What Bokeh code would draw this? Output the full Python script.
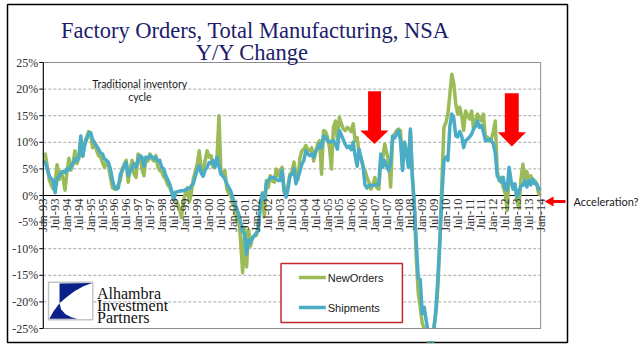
import math
from bokeh.plotting import figure
from bokeh.models import (Range1d, FixedTicker, Label, LabelSet, ColumnDataSource,
                          BoxAnnotation, PolyAnnotation, Arrow, LinearAxis,
                          CustomJSTickFormatter)
from bokeh.core.properties import value
from bokeh.embed import file_html
from bokeh.resources import INLINE

# ---------------- data (monthly, Jan-93 .. Jan-14, y/y % change) ----------------
new_orders = [
    7.5, 7.8, 5.5, 3.0, 2.0, 1.2, 2.5, 5.8, 3.0, 4.5, 3.2, 1.0,          # 1993
    4.5, 7.0, 4.8, 5.8, 8.4, 6.0, 7.0, 10.3, 7.4, 10.0, 11.0, 12.0,      # 1994
    11.5, 9.0, 10.0, 8.5, 7.5, 7.2, 6.2, 5.3, 6.5, 5.5, 3.4, 1.5,        # 1995
    1.2, 1.5, 2.0, 2.8, 5.0, 5.9, 6.6, 2.5, 5.0, 6.6, 4.0, 3.4,          # 1996
    7.8, 7.2, 5.0, 3.7, 7.2, 6.5, 7.8, 6.9, 6.5, 7.5, 5.5, 4.7,          # 1997
    4.5, 3.5, 3.1, 2.0, 1.6, 0.6, -0.5, -1.0, -1.5, -2.5, -4.2, -1.0,    # 1998
    0.5, 1.5, -1.2, 0.5, 3.1, 4.5, 6.0, 8.4, 5.0, 4.7, 6.6, 8.4,         # 1999
    7.2, 7.5, 5.3, 6.0, 7.0, 15.0, 4.7, 3.7, 4.7, 1.2, 0.3, 0.0,         # 2000
    -1.5, -2.2, -4.7, -4.0, -8.7, -14.5, -6.0, -13.4, -6.5, -9.5, -7.8, -7.5,  # 2001
    -7.5, -5.6, -1.5, 0.5, -4.0, 2.8, 1.5, 3.7, 2.8, 2.5, 5.0, 3.7,      # 2002
    4.7, 5.3, 0.6, 0.3, 2.0, 4.0, 4.5, 6.3, 4.0, 3.0, 7.0, 8.4,          # 2003
    8.7, 9.4, 8.6, 8.4, 9.0, 6.5, 8.0, 9.7, 10.3, 4.0, 12.2, 12.0,       # 2004
    11.0, 9.0, 5.0, 12.8, 14.0, 10.5, 14.7, 13.5, 12.5, 12.2, 12.8, 12.5,  # 2005
    12.0, 13.5, 10.3, 10.9, 8.0, 7.2, 5.5, 4.7, 3.4, 2.5, 1.2, 2.0,      # 2006
    3.4, 1.5, 1.2, 6.5, 7.0, 9.7, 8.0, 6.5, 1.6, 11.0, 11.5, 12.2,       # 2007
    12.5, 12.2, 5.3, 10.0, 8.4, 6.2, 12.0, 3.7, -2.2, -12.0, -18.4, -21.0,  # 2008
    -24.0, -25.0, -25.5, -28.0, -30.0, -30.0, -24.5, -22.0, -17.0, -8.0, 3.0, 12.8,  # 2009
    13.7, 15.3, 19.0, 22.8, 21.0, 17.2, 15.3, 16.6, 15.0, 12.2, 15.9, 15.0,  # 2010
    14.4, 15.9, 12.5, 14.0, 15.3, 14.5, 14.0, 15.3, 10.8, 11.0, 10.3, 10.6,  # 2011
    12.0, 14.0, 4.5, 2.8, 3.4, 1.6, 0.5, -2.8, 3.7, 2.5, 1.6, 1.9,       # 2012
    -1.0, -2.4, 3.0, 5.9, 3.0, 4.5, 3.0, 3.7, 2.5, 2.8, 2.2, 0.3,        # 2013
    0.0,                                                                 # Jan-14
]

shipments = [
    6.5, 6.2, 5.0, 3.7, 3.2, 2.8, 0.5, 3.2, 3.6, 4.2, 4.5, 4.3,          # 1993
    5.0, 4.8, 5.5, 6.0, 6.9, 6.5, 7.2, 11.2, 7.4, 9.5, 10.6, 11.7,       # 1994
    11.8, 10.5, 9.9, 9.3, 8.7, 8.0, 7.8, 6.9, 6.6, 6.2, 5.0, 3.0,        # 1995
    1.6, 1.2, 1.4, 4.0, 4.7, 5.5, 6.2, 3.7, 4.5, 5.3, 6.0, 5.3,          # 1996
    6.6, 7.5, 7.2, 5.5, 7.2, 7.0, 7.5, 7.3, 6.9, 7.2, 6.5, 6.6,          # 1997
    5.3, 5.0, 3.8, 3.0, 2.2, 1.0, -0.8, 0.6, 0.7, 0.8, 0.9, 0.9,         # 1998
    1.1, 1.2, 1.3, 1.8, 2.2, 3.6, 4.8, 5.6, 4.2, 3.6, 4.8, 5.3,          # 1999
    6.2, 6.0, 6.6, 5.3, 7.2, 5.5, 4.0, 3.7, 3.1, 2.2, 1.5, 0.8,          # 2000
    -0.5, -1.5, -2.4, -3.5, -5.0, -6.8, -7.2, -11.0, -8.4, -8.8, -8.0, -7.6,  # 2001
    -7.0, -6.6, -1.5, 0.3, -0.8, 2.2, 2.8, 3.4, 3.4, 3.4, 3.1, 2.8,      # 2002
    2.8, 4.7, 1.2, -0.3, 1.2, 3.7, 4.0, 5.0, 2.2, 3.4, 4.5, 5.9,         # 2003
    6.6, 8.4, 7.8, 7.5, 7.8, 7.2, 8.4, 8.8, 9.7, 9.0, 11.2, 11.0,        # 2004
    10.3, 10.0, 10.2, 10.3, 9.7, 8.7, 12.2, 11.4, 10.5, 9.6, 9.0, 9.3,   # 2005
    8.6, 10.0, 7.5, 5.5, 8.7, 7.0, 5.5, 2.0, 1.4, 1.9, 1.9, 1.9,         # 2006
    2.0, 1.9, 2.2, 7.8, 5.3, 6.6, 5.5, 4.7, 6.0, 11.2, 10.8, 11.5,       # 2007
    12.2, 10.3, 4.7, 10.0, 7.8, 5.3, 12.5, 3.4, -1.6, -9.0, -15.6, -15.8,  # 2008
    -22.2, -21.0, -23.5, -25.8, -28.0, -28.0, -25.0, -21.0, -15.0, -8.0, 0.0, 6.6,  # 2009
    7.2, 6.6, 13.0, 15.3, 14.5, 11.2, 11.0, 12.0, 11.2, 9.0, 10.3, 10.6,  # 2010
    11.0, 11.5, 12.5, 13.0, 14.0, 12.8, 13.2, 12.0, 10.3, 10.3, 10.6, 10.3,  # 2011
    9.7, 8.0, 3.7, 3.1, 2.5, 3.4, 1.2, 1.0, 5.3, 2.8, 1.2, 2.2,          # 2012
    -0.3, 0.6, 1.8, 1.9, 2.8, 1.6, 2.8, 2.0, 3.1, 2.2, 2.2, 1.2,         # 2013
    1.5,                                                                 # Jan-14
]

tick_labels = [
    "Jan-93", "Jul-93", "Jan-94", "Jul-94", "Jan-95", "Jul-95", "Jan-96", "Jul-96",
    "Jan-97", "Jul-97", "Jan-98", "Jul-98", "Jan-99", "Jul-99", "Jan-00", "Jul-00",
    "Jan-01", "Jul-01", "Jan-02", "Jul-02", "Jan-03", "Jul-03", "Jan-04", "Jul-04",
    "Jan-05", "Jul-05", "Jan-06", "Jul-06", "Jan-07", "Jul-07", "Jan-08", "Jul-08",
    "Jan-09", "Jul-09", "Jan-10", "Jul-10", "Jan-11", "Jul-11", "Jan-12", "Jul-12",
    "Jan-13", "Jul-13", "Jan-14",
]
tick_months = [6 * i for i in range(len(tick_labels))]
y_ticks = [-25, -20, -15, -10, -5, 0, 5, 10, 15, 20, 25]
y_tick_labels = [f"{t}%" for t in y_ticks]
series_names = ["NewOrders", "Shipments"]
series_colors = ["#9bbb59", "#4bacc6"]

months = list(range(len(shipments)))

# ---------------- layout (pixels of the picture) ----------------
W, H = 641, 346
BL, BR, BT, BB = 7, 570, 4, 342       # outer black box = bokeh frame
FL, FR, FT, FB = 43, 543, 62, 328     # plot area
XMIN, XMAX = 0, 252
YMIN, YMAX = -25, 25


def dx(px):
    return XMIN + (px - FL) / (FR - FL) * (XMAX - XMIN)


def dy(py):
    return YMAX - (py - FT) / (FB - FT) * (YMAX - YMIN)


p = figure(width=W, height=H, output_backend="svg", toolbar_location=None,
           x_range=Range1d(dx(BL), dx(BR)), y_range=Range1d(dy(BB), dy(BT)),
           x_axis_location=None, y_axis_location=None, title=None)
p.min_border = 0
p.min_border_left = BL
p.min_border_right = W - BR
p.min_border_top = BT
p.min_border_bottom = H - BB
p.background_fill_color = "white"
p.border_fill_color = "white"
p.outline_line_color = "black"
p.outline_line_width = 1.5
p.xgrid.grid_line_color = None
p.ygrid.grid_line_color = None

n = len(y_ticks)
# horizontal dashed grid and zero axis line
p.segment(x0=[XMIN] * n, x1=[XMAX] * n, y0=y_ticks, y1=y_ticks, line_color="#a6a6a6",
          line_width=1, line_dash="3 2", level="underlay")
p.segment(x0=[XMIN], x1=[XMAX], y0=[0], y1=[0], line_color="black", line_width=1,
          level="underlay")

# data lines
p.line(months, new_orders, line_color=series_colors[0], line_width=3.5, line_join="round")
p.line(months, shipments, line_color=series_colors[1], line_width=3.5, line_join="round")

# keep the plot area's bottom edge as the lower limit of the lines
p.add_layout(BoxAnnotation(left=dx(FL + 0.5), right=dx(FR + 3), top=dy(FB + 0.6), bottom=dy(BB - 1.5),
                           fill_color="white", fill_alpha=1, line_color=None))
# plot-area border and y axis
p.add_layout(BoxAnnotation(left=XMIN, right=XMAX, top=YMAX, bottom=YMIN, fill_alpha=0,
                           fill_color=None, line_color="#8c8c8c", line_alpha=1, line_width=1))
p.add_layout(Arrow(x_start=XMIN, y_start=YMIN, x_end=XMIN, y_end=YMAX, start=None, end=None,
                   line_color="black", line_width=1))
p.segment(x0=[dx(FL - 4)] * n, x1=[XMIN] * n, y0=y_ticks, y1=y_ticks, line_color="black",
          line_width=1)
ysrc = ColumnDataSource(dict(x=[dx(FL - 5)] * n, y=y_ticks, text=y_tick_labels))
p.add_layout(LabelSet(x="x", y="y", text="text", source=ysrc, text_align="right",
                      text_baseline="middle", text_font=value("Liberation Serif"),
                      text_font_size="12px", text_color="#303030"))

# x tick labels (axis crosses at 0)
xsrc = ColumnDataSource(dict(x=tick_months, y=[dy(198)] * len(tick_months), text=tick_labels))
p.add_layout(LabelSet(x="x", y="y", text="text", source=xsrc, angle=math.pi / 2,
                      text_align="right", text_baseline="middle",
                      text_font=value("Liberation Serif"), text_font_size="12.5px",
                      text_color="#303030"))

# title
navy = "#1c1c6b"
for txt, cx, py in (("Factory Orders, Total Manufacturing, NSA", 256, 29.5), ("Y/Y Change", 253, 52)):
    p.add_layout(Label(x=dx(cx), y=dy(py), text=txt, text_align="center",
                       text_baseline="alphabetic", text_font="Liberation Serif",
                       text_font_size="22.5px", text_color=navy))

# note
for txt, py in (("Traditional inventory", 83), ("cycle", 96)):
    p.add_layout(Label(x=dx(140), y=dy(py), text=txt, text_align="center",
                       text_baseline="alphabetic", text_font="Lato",
                       text_font_size="10.5px", text_color="#1a1a1a"))


def red_poly(pts):
    p.add_layout(PolyAnnotation(xs=[dx(a) for a, b in pts], ys=[dy(b) for a, b in pts],
                                fill_color="#ff0000", fill_alpha=1, line_color=None))


def down_arrow(x0, x1, top, hx0, hx1, htop, tipx, tipy):
    red_poly([(x0, top), (x1, top), (x1, htop), (hx1, htop), (tipx, tipy), (hx0, htop), (x0, htop)])


down_arrow(369.5, 382.5, 90.7, 361.7, 390, 130, 376, 143.5)
down_arrow(507, 521, 92.7, 500, 528.3, 131.7, 514, 146)
red_poly([(547, 201), (556, 196), (556, 199.5), (568, 199.5), (568, 202.5), (556, 202.5), (556, 206)])

# note outside the box (drawn as a right-side axis label)
ra = LinearAxis(ticker=FixedTicker(ticks=[dy(201)]),
                formatter=CustomJSTickFormatter(code="return 'Acceleration?'"),
                axis_line_color=None, minor_tick_line_color=None, major_tick_line_color=None,
                major_tick_in=0, major_tick_out=0, major_label_standoff=6,
                major_label_text_color="#1a1a1a", major_label_text_font="Lato",
                major_label_text_font_size="11px")
p.add_layout(ra, "right")

# legend
p.add_layout(BoxAnnotation(left=dx(282), right=dx(404), top=dy(263), bottom=dy(322),
                           fill_color="white", fill_alpha=1, line_color="#c0282d",
                           line_alpha=1, line_width=1.5))
for name, col, py in zip(series_names, series_colors, (277, 307)):
    p.add_layout(Arrow(x_start=dx(300), y_start=dy(py), x_end=dx(327), y_end=dy(py),
                       start=None, end=None, line_color=col, line_width=3.5))
    p.add_layout(Label(x=dx(329), y=dy(py), text=name, text_baseline="middle",
                       text_font="Liberation Sans", text_font_size="11px", text_color="#1a1a1a"))

# logo
LX, LY = 48.3, 281.7
p.add_layout(BoxAnnotation(left=dx(LX), right=dx(LX + 44.4), top=dy(LY), bottom=dy(LY + 37.6),
                           fill_color="white", fill_alpha=1, line_color="#c4c4c4",
                           line_alpha=1, line_width=1.5))
top_shape = [(11, 1.2), (43.8, 0.8), (35, 4), (26, 9), (18, 15), (11, 21)]
bot_shape = [(11, 21), (12.5, 27), (17, 32), (23, 35), (29, 36.6), (0.8, 36.6), (5, 29)]
for shape in (top_shape, bot_shape):
    p.add_layout(PolyAnnotation(xs=[dx(LX + a) for a, b in shape], ys=[dy(LY + b) for a, b in shape],
                                fill_color="#0b2189", fill_alpha=1, line_color=None))
for txt, py in (("Alhambra", 293), ("Investment", 305), ("Partners", 317)):
    p.add_layout(Label(x=dx(97), y=dy(py), text=txt, text_baseline="alphabetic",
                       text_font="Liberation Serif", text_font_size="16px", text_color="#111111"))

open("out.html", "w").write(file_html(p, INLINE))
